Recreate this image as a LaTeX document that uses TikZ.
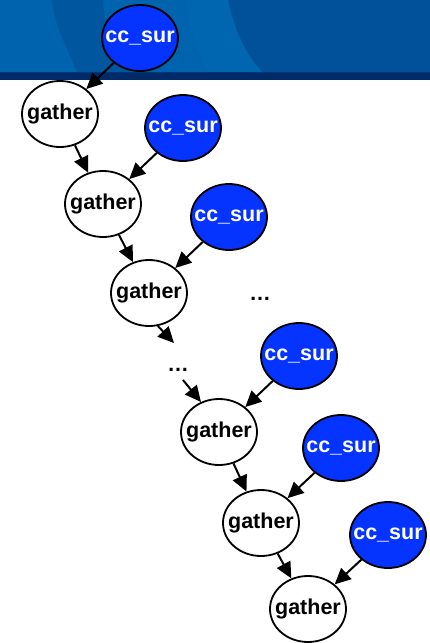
\documentclass[tikz,border=0pt]{standalone}
\usepackage{fontspec}
\setmainfont{Liberation Sans}
\usetikzlibrary{shapes.geometric,arrows.meta}
\definecolor{hdrmid}{HTML}{0063AD}
\definecolor{hdrdark}{HTML}{00579F}
\definecolor{hdrlight}{HTML}{0066B0}
\definecolor{hdrbase}{HTML}{00509A}
\definecolor{hdrstrip}{HTML}{002B68}
\definecolor{surblue}{HTML}{0533FF}
\newcommand{\fixw}[1]{\makebox[0pt]{#1}}
\tikzset{
  gnode/.style={ellipse,draw=black,line width=1.8pt,fill=white,minimum width=76pt,minimum height=66pt,inner sep=0pt,font=\fontsize{21.5}{25}\selectfont\bfseries,text=black},
  snode/.style={ellipse,draw=black,line width=1.8pt,fill=surblue,minimum width=76pt,minimum height=66pt,inner sep=0pt,font=\fontsize{21.5}{25}\selectfont\bfseries,text=white},
  arr/.style={line width=2pt,-{Triangle[length=16pt,width=15pt]}},
  dots/.style={font=\fontsize{21.5}{25}\selectfont\bfseries,anchor=base,inner sep=0pt}
}
\begin{document}
\begin{tikzpicture}[x=1pt,y=-1pt]
\useasboundingbox (0,0) rectangle (430,643);
\fill[white] (0,0) rectangle (430,643);
% header
\fill[hdrmid] (0,0) rectangle (430,72);
\fill[hdrdark] (52,0) .. controls (54,25) and (66,45) .. (77,72) -- (130,72) .. controls (112,45) and (104,25) .. (103,0) -- cycle;
\fill[hdrbase] (228,0) .. controls (234,30) and (246,55) .. (262,72) -- (430,72) -- (430,0) -- cycle;
\fill[hdrlight] (185,0) .. controls (190,30) and (198,55) .. (208,72) -- (262,72) .. controls (246,55) and (234,30) .. (228,0) -- cycle;
\fill[hdrstrip] (0,72) rectangle (430,80);
\fill[hdrstrip!70!hdrbase] (0,72) rectangle (430,73);
% nodes
\node[snode] (s1) at (140,38) {\fixw{cc\_sur}};
\node[gnode] (g1) at (60,114) {\fixw{gather}};
\node[snode] (s2) at (183,128) {\fixw{cc\_sur}};
\node[gnode] (g2) at (103,204) {\fixw{gather}};
\node[snode] (s3) at (229,217) {\fixw{cc\_sur}};
\node[gnode] (g3) at (149,293) {\fixw{gather}};
\node[dots] (t1) at (260,300) {…};
\coordinate (d1) at (174,343);
\node[dots] (t2) at (178,371) {…};
\coordinate (d2) at (183,380);
\node[snode] (s4) at (299,356) {\fixw{cc\_sur}};
\node[gnode] (g4) at (219,432) {\fixw{gather}};
\node[snode] (s5) at (341,448) {\fixw{cc\_sur}};
\node[gnode] (g5) at (261,523) {\fixw{gather}};
\node[snode] (s6) at (388,535) {\fixw{cc\_sur}};
\node[gnode] (g6) at (308,609) {\fixw{gather}};
% edges
\draw[arr] (s1) -- (g1);
\draw[arr] (g1) -- (g2);
\draw[arr] (s2) -- (g2);
\draw[arr] (g2) -- (g3);
\draw[arr] (s3) -- (g3);
\draw[arr] (g3.-75) -- (d1);
\draw[arr] (d2) -- (g4.121);
\draw[arr] (s4) -- (g4);
\draw[arr] (g4) -- (g5);
\draw[arr] (s5) -- (g5);
\draw[arr] (g5) -- (g6);
\draw[arr] (s6) -- (g6);
\end{tikzpicture}
\end{document}
